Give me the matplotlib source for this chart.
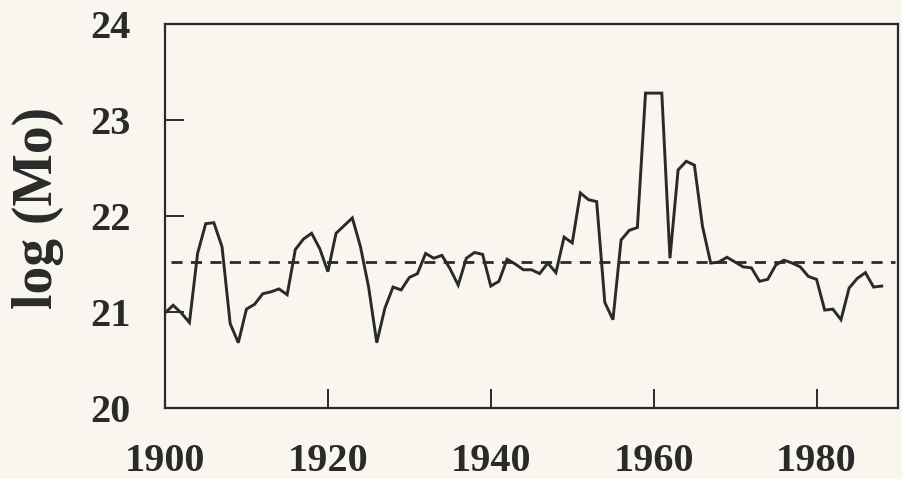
import matplotlib
matplotlib.use("Agg")
import matplotlib.pyplot as plt

years = list(range(1900, 1989))
log_mo = [
    20.99, 21.07, 20.99, 20.89, 21.61, 21.92, 21.93, 21.68, 20.88, 20.68,  # 1900-1909
    21.03, 21.08, 21.19, 21.21, 21.24, 21.18, 21.65, 21.76, 21.82, 21.66,  # 1910-1919
    21.42, 21.82, 21.90, 21.98, 21.68, 21.26, 20.68, 21.04, 21.26, 21.23,  # 1920-1929
    21.36, 21.40, 21.61, 21.56, 21.59, 21.45, 21.28, 21.56, 21.62, 21.60,  # 1930-1939
    21.27, 21.32, 21.55, 21.50, 21.44, 21.44, 21.40, 21.51, 21.41, 21.78,  # 1940-1949
    21.72, 22.24, 22.17, 22.15, 21.10, 20.92, 21.75, 21.85, 21.88, 23.28,  # 1950-1959
    23.28, 23.28, 21.56, 22.48, 22.57, 22.53, 21.89, 21.51, 21.52, 21.57,  # 1960-1969
    21.52, 21.47, 21.46, 21.32, 21.34, 21.49, 21.54, 21.51, 21.47, 21.37,  # 1970-1979
    21.34, 21.02, 21.03, 20.92, 21.25, 21.35, 21.41, 21.26, 21.27,         # 1980-1988
]
mean_level = 21.52
x_ticks = [1900, 1920, 1940, 1960, 1980]
y_ticks = [20, 21, 22, 23, 24]

bg = "#f8f6ee"
ink = "#2a2a2a"

plt.rcParams["font.family"] = ["Liberation Serif", "DejaVu Serif"]

fig = plt.figure(figsize=(9.02, 4.79), dpi=100, facecolor=bg)
ax = fig.add_axes([165 / 902, 1 - 408 / 479, (898 - 165) / 902, (408 - 24) / 479])
ax.set_facecolor(bg)

ax.plot(years, log_mo, color=ink, lw=2.1, solid_joinstyle="miter")
ax.hlines(mean_level, 1900.7, 1989.6, colors=ink, linestyles=(0, (4, 3)), lw=2.0)

ax.set_xlim(1900, 1990)
ax.set_ylim(20, 24)
ax.set_xticks(x_ticks)
ax.set_yticks(y_ticks)
ax.set_xticklabels([str(t) for t in x_ticks])
ax.set_yticklabels([str(t) for t in y_ticks])

for s in ax.spines.values():
    s.set_color(ink)
    s.set_linewidth(1.6)

ax.tick_params(axis="both", direction="in", length=13.5, width=1.4, color=ink,
               labelsize=29, labelcolor=ink)
ax.tick_params(axis="x", pad=25)
ax.tick_params(axis="y", pad=25)
for lab in ax.get_xticklabels() + ax.get_yticklabels():
    lab.set_fontweight("bold")

ax.set_ylabel("log (Mo)", fontsize=40, fontweight="bold", color=ink)
ax.yaxis.set_label_coords((64 - 165) / 733, 1 - (208 - 24) / 384)

fig.savefig("out.png", dpi=100, facecolor=bg)
